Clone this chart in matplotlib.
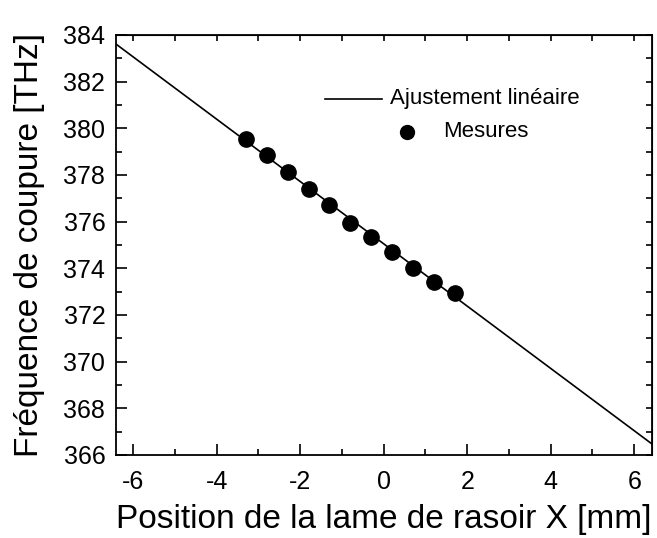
import numpy as np
import matplotlib
matplotlib.use("Agg")
import matplotlib.pyplot as plt
from matplotlib.ticker import MultipleLocator

plt.rcParams['font.family'] = ['Liberation Sans', 'DejaVu Sans']
plt.rcParams['axes.unicode_minus'] = False

# Data
position_mm = [-3.3, -2.8, -2.3, -1.8, -1.3, -0.8, -0.3, 0.2, 0.7, 1.2, 1.7]
freq_thz = [379.53, 378.84, 378.14, 377.40, 376.70, 375.96, 375.36, 374.71, 374.03, 373.43, 372.93]
fit_slope = -1.335
fit_intercept = 375.05
xlim = (-6.4, 6.42)
ylim = (366, 384)
xlabel = "Position de la lame de rasoir X [mm]"
ylabel = "Fréquence de coupure [THz]"
legend_fit = "Ajustement linéaire"
legend_meas = "Mesures"

fig = plt.figure(figsize=(6.57, 5.38), dpi=100)
ax = fig.add_axes([0.1773, 0.1543, 0.8147, 0.7807])

xfit = np.array(xlim)
ax.plot(xfit, fit_slope * xfit + fit_intercept, color='black', lw=1.2, zorder=2)
ax.plot(position_mm, freq_thz, 'o', color='black', markersize=11, zorder=3)

ax.set_xlim(*xlim)
ax.set_ylim(*ylim)
ax.xaxis.set_major_locator(MultipleLocator(2))
ax.xaxis.set_minor_locator(MultipleLocator(1))
ax.yaxis.set_major_locator(MultipleLocator(2))
ax.yaxis.set_minor_locator(MultipleLocator(1))
ax.tick_params(which='major', direction='in', length=8, width=1.2, labelsize=18)
ax.tick_params(axis='x', which='major', pad=11)
ax.tick_params(axis='y', which='major', pad=8)
ax.tick_params(which='minor', direction='in', length=4, width=1.2)
for s in ax.spines.values():
    s.set_linewidth(1.3)

sx = ax.secondary_xaxis('top')
sx.xaxis.set_major_locator(MultipleLocator(1))
sx.tick_params(which='both', direction='in', length=4, width=1.2, labeltop=False)
sy = ax.secondary_yaxis('right')
sy.yaxis.set_major_locator(MultipleLocator(1))
sy.tick_params(which='both', direction='in', length=4, width=1.2, labelright=False)

ax.set_xlabel(xlabel, fontsize=24, labelpad=7)
ax.set_ylabel(ylabel, fontsize=24, labelpad=13)

# Legend (drawn manually to match layout)
ax.plot([0.3896, 0.4955], [0.8476, 0.8476], color='black', lw=1.2, transform=ax.transAxes)
ax.text(0.511, 0.8476, legend_fit, fontsize=16, va='center', ha='left', transform=ax.transAxes)
ax.plot([0.5422], [0.7698], 'o', color='black', markersize=10, transform=ax.transAxes)
ax.text(0.610, 0.7698, legend_meas, fontsize=16, va='center', ha='left', transform=ax.transAxes)

fig.savefig("out.png", dpi=100)
